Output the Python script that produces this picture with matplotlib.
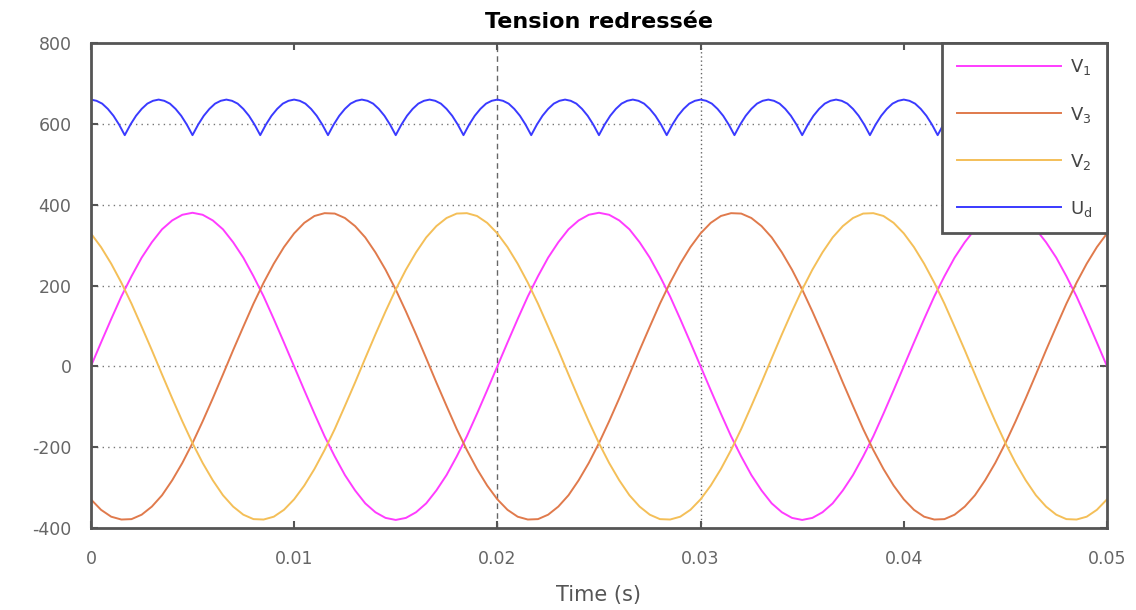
import numpy as np
import matplotlib
matplotlib.use("Agg")
import matplotlib.pyplot as plt

plt.rcParams["axes.unicode_minus"] = False

# sample times (s)
t_v = np.linspace(0, 0.05, 101)
t_ud = np.linspace(0, 0.05, 181)

# phase voltages (V), one period per two lines
v1 = [0, 59, 117, 173, 223, 269, 307, 339, 361, 375, 380, 375, 361, 339, 307, 269, 223, 173, 117, 59,
      0, -59, -117, -173, -223, -269, -307, -339, -361, -375, -380, -375, -361, -339, -307, -269, -223, -173, -117, -59,
      0, 59, 117, 173, 223, 269, 307, 339, 361, 375, 380, 375, 361, 339, 307, 269, 223, 173, 117, 59,
      0, -59, -117, -173, -223, -269, -307, -339, -361, -375, -380, -375, -361, -339, -307, -269, -223, -173, -117, -59,
      0, 59, 117, 173, 223, 269, 307, 339, 361, 375, 380, 375, 361, 339, 307, 269, 223, 173, 117, 59,
      0]
v3 = [-329, -355, -372, -379, -378, -367, -347, -319, -282, -239, -190, -136, -79, -20, 40, 98, 155, 207, 254, 295,
      329, 355, 372, 379, 378, 367, 347, 319, 282, 239, 190, 136, 79, 20, -40, -98, -155, -207, -254, -295,
      -329, -355, -372, -379, -378, -367, -347, -319, -282, -239, -190, -136, -79, -20, 40, 98, 155, 207, 254, 295,
      329, 355, 372, 379, 378, 367, 347, 319, 282, 239, 190, 136, 79, 20, -40, -98, -155, -207, -254, -295,
      -329, -355, -372, -379, -378, -367, -347, -319, -282, -239, -190, -136, -79, -20, 40, 98, 155, 207, 254, 295,
      329]
v2 = [329, 295, 254, 207, 155, 98, 40, -20, -79, -136, -190, -239, -282, -319, -347, -367, -378, -379, -372, -355,
      -329, -295, -254, -207, -155, -98, -40, 20, 79, 136, 190, 239, 282, 319, 347, 367, 378, 379, 372, 355,
      329, 295, 254, 207, 155, 98, 40, -20, -79, -136, -190, -239, -282, -319, -347, -367, -378, -379, -372, -355,
      -329, -295, -254, -207, -155, -98, -40, 20, 79, 136, 190, 239, 282, 319, 347, 367, 378, 379, 372, 355,
      329, 295, 254, 207, 155, 98, 40, -20, -79, -136, -190, -239, -282, -319, -347, -367, -378, -379, -372, -355,
      -329]

# rectified voltage Ud, one ripple per line
ud = [660, 657, 650, 637, 620, 598, 572, 598, 620, 637, 650, 657,
      660, 657, 650, 637, 620, 598, 572, 598, 620, 637, 650, 657,
      660, 657, 650, 637, 620, 598, 572, 598, 620, 637, 650, 657,
      660, 657, 650, 637, 620, 598, 572, 598, 620, 637, 650, 657,
      660, 657, 650, 637, 620, 598, 572, 598, 620, 637, 650, 657,
      660, 657, 650, 637, 620, 598, 572, 598, 620, 637, 650, 657,
      660, 657, 650, 637, 620, 598, 572, 598, 620, 637, 650, 657,
      660, 657, 650, 637, 620, 598, 572, 598, 620, 637, 650, 657,
      660, 657, 650, 637, 620, 598, 572, 598, 620, 637, 650, 657,
      660, 657, 650, 637, 620, 598, 572, 598, 620, 637, 650, 657,
      660, 657, 650, 637, 620, 598, 572, 598, 620, 637, 650, 657,
      660, 657, 650, 637, 620, 598, 572, 598, 620, 637, 650, 657,
      660, 657, 650, 637, 620, 598, 572, 598, 620, 637, 650, 657,
      660, 657, 650, 637, 620, 598, 572, 598, 620, 637, 650, 657,
      660, 657, 650, 637, 620, 598, 572, 598, 620, 637, 650, 657,
      660]

x_ticks = [0, 0.01, 0.02, 0.03, 0.04, 0.05]
x_labels = ["0", "0.01", "0.02", "0.03", "0.04", "0.05"]
y_ticks = [-400, -200, 0, 200, 400, 600, 800]

fig = plt.figure(figsize=(11.36, 6.10), dpi=100)
ax = fig.add_axes([0.080, 0.1344, 0.8945, 0.7951])

ax.plot(t_v, v1, color="#ff3cff", lw=1.4, label="V$_1$")
ax.plot(t_v, v3, color="#e07a4c", lw=1.4, label="V$_3$")
ax.plot(t_v, v2, color="#f4bf58", lw=1.4, label="V$_2$")
ax.plot(t_ud, ud, color="#3a3aff", lw=1.4, label="U$_\\mathrm{d}$")

ax.set_xlim(0, 0.05)
ax.set_ylim(-400, 800)
ax.set_xticks(x_ticks)
ax.set_xticklabels(x_labels)
ax.set_yticks(y_ticks)

# horizontal dotted grid, only two vertical lines show up in the original
for y in [-200, 0, 200, 400, 600]:
    ax.axhline(y, color="#777777", ls=(0, (1, 3)), lw=1, zorder=0)
ax.axvline(0.02, color="#666666", ls=(0, (4, 3)), lw=1, zorder=0)
ax.axvline(0.03, color="#666666", ls=(0, (1, 2)), lw=1, zorder=0)

for s in ax.spines.values():
    s.set_color("#555555")
    s.set_linewidth(2)

ax.tick_params(direction="in", length=5, width=1.5, color="#555555",
               top=True, right=True, labelsize=12.5, labelcolor="#666666")
ax.tick_params(axis="x", pad=16)
ax.tick_params(axis="y", pad=14)

ax.set_title("Tension redressée", fontsize=16, fontweight="bold", pad=11)
ax.set_xlabel("Time (s)", fontsize=15, color="#555555", labelpad=12)

leg = ax.legend(loc="upper right", borderaxespad=0, fontsize=13, handlelength=5.8,
                labelspacing=1.5, fancybox=False, framealpha=1, borderpad=0.8,
                handletextpad=0.5)
leg.get_frame().set_edgecolor("#555555")
leg.get_frame().set_linewidth(2)
for txt in leg.get_texts():
    txt.set_color("#444444")

fig.savefig("out.png", dpi=100)
